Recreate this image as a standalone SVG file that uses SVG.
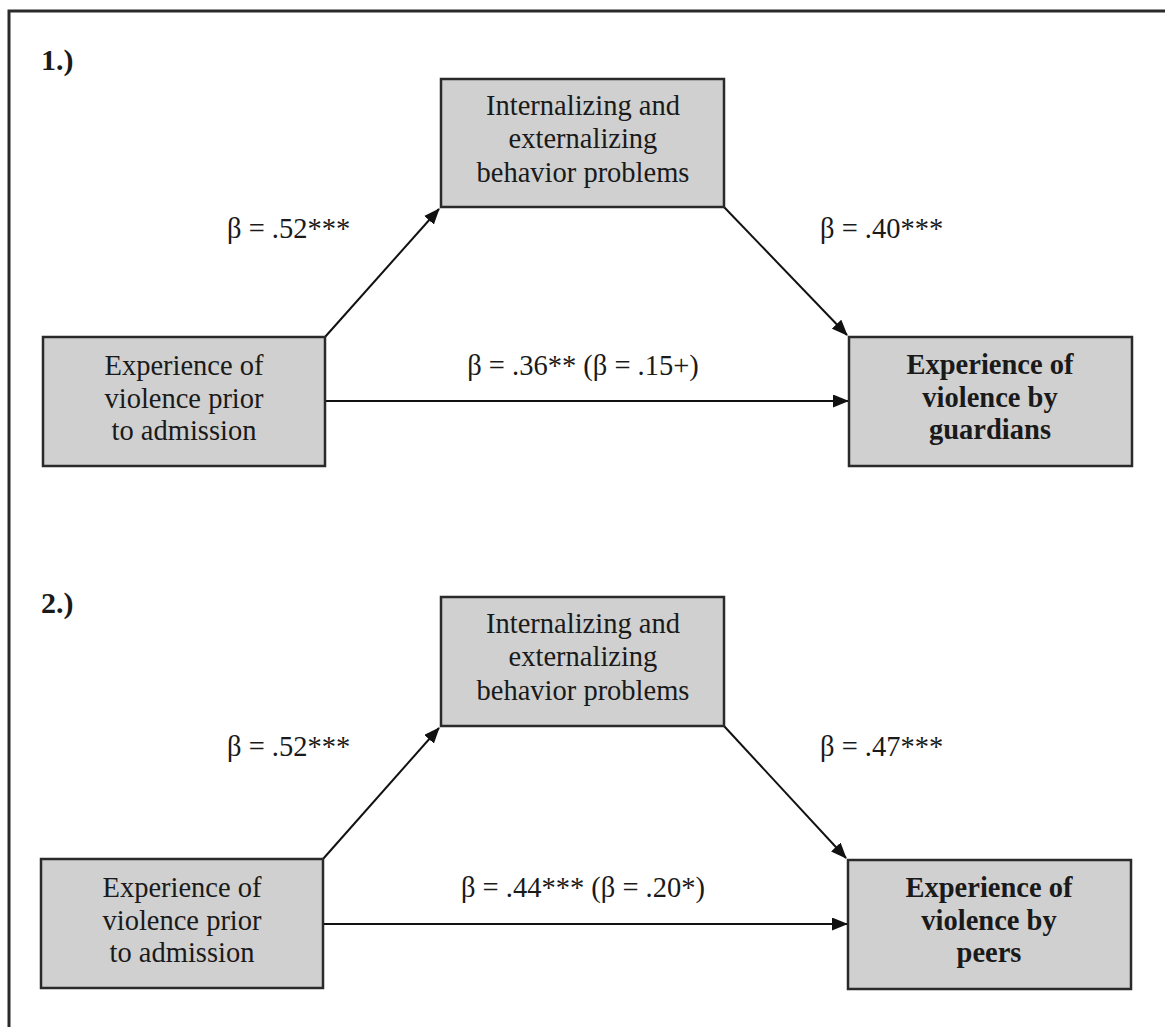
<svg xmlns="http://www.w3.org/2000/svg" width="1165" height="1027" viewBox="0 0 1165 1027">
<defs>
<marker id="ah" viewBox="0 0 16 13" refX="15" refY="6.5" markerWidth="16" markerHeight="13" markerUnits="userSpaceOnUse" orient="auto">
<path d="M0,0 L16,6.5 L0,13 Z" fill="#111"/>
</marker>
<style>
.box{fill:#d0d0d0;stroke:#2a2a2a;stroke-width:2.5}
.t{font-family:"Liberation Serif","Times New Roman",serif;font-size:28.5px;fill:#1a1a1a;text-anchor:middle}
.b{font-weight:bold}
.l{font-family:"Liberation Serif","Times New Roman",serif;font-size:28.5px;fill:#1a1a1a}
.c{stroke:#111;stroke-width:2;fill:none;marker-end:url(#ah)}
</style>
</defs>
<rect width="1165" height="1027" fill="#fff"/>
<path d="M9,1027 V11 H1165" fill="none" stroke="#2a2a2a" stroke-width="3"/>

<text class="l b" x="41" y="70" style="font-size:30px">1.)</text>
<text class="l b" x="41" y="613" style="font-size:30px">2.)</text>

<g id="connectors">
<line class="c" x1="325" y1="337" x2="439" y2="209"/>
<line class="c" x1="724" y1="207" x2="847" y2="335"/>
<line class="c" x1="325" y1="401" x2="848" y2="401"/>
<line class="c" x1="323" y1="859" x2="439" y2="728"/>
<line class="c" x1="724" y1="726" x2="846" y2="858"/>
<line class="c" x1="323" y1="924" x2="847" y2="924"/>
<text class="l" x="227" y="238">β = .52***</text>
<text class="l" x="820" y="238">β = .40***</text>
<text class="t" x="583" y="375">β = .36** (β = .15+)</text>
<text class="l" x="227" y="756">β = .52***</text>
<text class="l" x="820" y="756">β = .47***</text>
<text class="t" x="583" y="897">β = .44*** (β = .20*)</text>
</g>

<g id="mediator1">
<rect class="box" x="441" y="79" width="283" height="128"/>
<text class="t" x="583" y="115">Internalizing and</text>
<text class="t" x="583" y="148">externalizing</text>
<text class="t" x="583" y="182">behavior problems</text>
</g>
<g id="predictor1">
<rect class="box" x="43" y="337" width="282" height="129"/>
<text class="t" x="184" y="375">Experience of</text>
<text class="t" x="184" y="408">violence prior</text>
<text class="t" x="184" y="440">to admission</text>
</g>
<g id="outcome1">
<rect class="box" x="849" y="337" width="283" height="129"/>
<text class="t b" x="990" y="374">Experience of</text>
<text class="t b" x="990" y="407">violence by</text>
<text class="t b" x="990" y="439">guardians</text>
</g>

<g id="mediator2">
<rect class="box" x="441" y="597" width="283" height="129"/>
<text class="t" x="583" y="633">Internalizing and</text>
<text class="t" x="583" y="666">externalizing</text>
<text class="t" x="583" y="700">behavior problems</text>
</g>
<g id="predictor2">
<rect class="box" x="41" y="859" width="282" height="129"/>
<text class="t" x="182" y="897">Experience of</text>
<text class="t" x="182" y="930">violence prior</text>
<text class="t" x="182" y="962">to admission</text>
</g>
<g id="outcome2">
<rect class="box" x="848" y="860" width="283" height="129"/>
<text class="t b" x="989" y="897">Experience of</text>
<text class="t b" x="989" y="930">violence by</text>
<text class="t b" x="989" y="962">peers</text>
</g>
</svg>
